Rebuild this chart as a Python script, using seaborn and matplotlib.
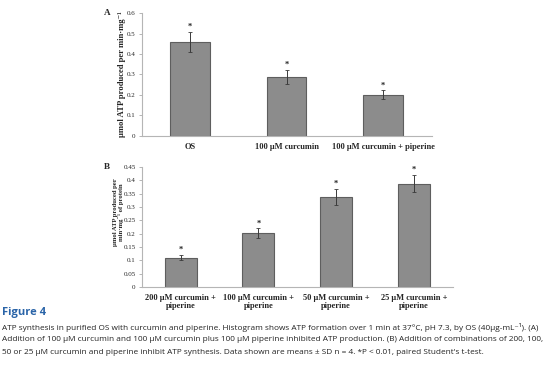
import matplotlib
matplotlib.use('Agg')
import matplotlib.pyplot as plt
import seaborn as sns
import pandas as pd

# panel A
cats_a = ['OS', '100 µM curcumin', '100 µM curcumin + piperine']
vals_a = [0.46, 0.288, 0.2]
errs_a = [0.048, 0.033, 0.022]
ticks_a = [0, 0.1, 0.2, 0.3, 0.4, 0.5, 0.6]

# panel B
cats_b = ['200 µM curcumin +\npiperine', '100 µM curcumin +\npiperine',
          '50 µM curcumin +\npiperine', '25 µM curcumin +\npiperine']
vals_b = [0.11, 0.202, 0.337, 0.388]
errs_b = [0.01, 0.018, 0.03, 0.033]
ticks_b = [0, 0.05, 0.1, 0.15, 0.2, 0.25, 0.3, 0.35, 0.4, 0.45]
tick_labels_b = ['0', '0.05', '0.1', '0.15', '0.2', '0.25', '0.3', '0.35', '0.4', '0.45']

caption = [
    'ATP synthesis in purified OS with curcumin and piperine. Histogram shows ATP formation over 1 min at 37°C, pH 7.3, by OS (40µg-mL⁻¹). (A)',
    'Addition of 100 µM curcumin and 100 µM curcumin plus 100 µM piperine inhibited ATP production. (B) Addition of combinations of 200, 100,',
    "50 or 25 µM curcumin and piperine inhibit ATP synthesis. Data shown are means ± SD n = 4. *P < 0.01, paired Student's t-test.",
]

sns.set_style('white')
serif = ['Liberation Serif', 'DejaVu Serif']
plt.rcParams['font.family'] = serif

fig = plt.figure(figsize=(5.54, 3.83), dpi=100)
ax_a = fig.add_axes([0.256, 0.645, 0.523, 0.321])
ax_b = fig.add_axes([0.256, 0.251, 0.561, 0.313])


def draw_panel(ax, cats, vals, errs, ticks, tick_labels, ymax, ylabel, ylabel_size, letter):
    df = pd.DataFrame({'cat': cats, 'val': vals})
    sns.barplot(data=df, x='cat', y='val', ax=ax, color='#8c8c8c',
                edgecolor='#5e5e5e', linewidth=0.8, width=0.41,
                saturation=1, errorbar=None)
    pos = list(range(len(cats)))
    ax.errorbar(pos, vals, yerr=errs, fmt='none', ecolor='#3a3a3a',
                elinewidth=0.7, capsize=1.2, capthick=0.6)
    for p, v, e in zip(pos, vals, errs):
        ax.text(p, v + e + ymax * 0.008, '*', ha='center', va='bottom',
                fontsize=6, fontweight='bold', color='#222222')
    ax.set_xlim(-0.5, len(cats) - 0.5)
    ax.set_ylim(0, ymax)
    ax.set_yticks(ticks)
    ax.set_yticklabels(tick_labels, fontsize=5.0)
    ax.set_xticks(pos)
    ax.set_xticklabels(cats, fontsize=6.0, fontweight='bold', linespacing=1.1)
    ax.tick_params(axis='x', which='major', length=0, pad=5)
    ax.set_xticks([p + 0.5 for p in pos], minor=True)
    ax.tick_params(axis='x', which='minor', length=2.5, width=0.6, color='#aaaaaa', direction='out')
    ax.tick_params(axis='y', length=2, width=0.6, color='#aaaaaa', direction='out', pad=2.5, left=True)
    sns.despine(ax=ax)
    for s in ['left', 'bottom']:
        ax.spines[s].set_color('#b5b5b5')
        ax.spines[s].set_linewidth(0.8)
    ax.set_xlabel('')
    ax.set_ylabel(ylabel, fontsize=ylabel_size, fontweight='bold', linespacing=1.0)
    ax.text(-0.2, 1.0, letter, transform=ax.transAxes, fontsize=6.6,
            fontweight='bold', ha='center', va='center')


draw_panel(ax_a, cats_a, vals_a, errs_a, ticks_a, [str(t) for t in ticks_a], 0.6,
           'µmol ATP produced per min·mg⁻¹', 6.2, 'A')
draw_panel(ax_b, cats_b, vals_b, errs_b, ticks_b, tick_labels_b, 0.45,
           'µmol ATP produced per\nmin·mg⁻¹ of protein', 4.8, 'B')
ax_a.yaxis.set_label_coords(-0.053, 0.5)
ax_b.yaxis.set_label_coords(-0.058, 0.62)
ax_a.texts[-1].set_position((-0.121, 1.0))
ax_b.texts[-1].set_position((-0.113, 1.0))

fig.text(0.004, 1 - 312 / 383, 'Figure 4', fontsize=8, fontweight='bold',
         color='#2a64a8', family=['Open Sans', 'DejaVu Sans'], va='center')
for i, line in enumerate(caption):
    fig.text(0.004, 1 - (327 + i * 12.5) / 383, line, fontsize=5.95,
             family=['Open Sans', 'DejaVu Sans'], va='center', color='#222222')

fig.savefig('out.png', dpi=100)
